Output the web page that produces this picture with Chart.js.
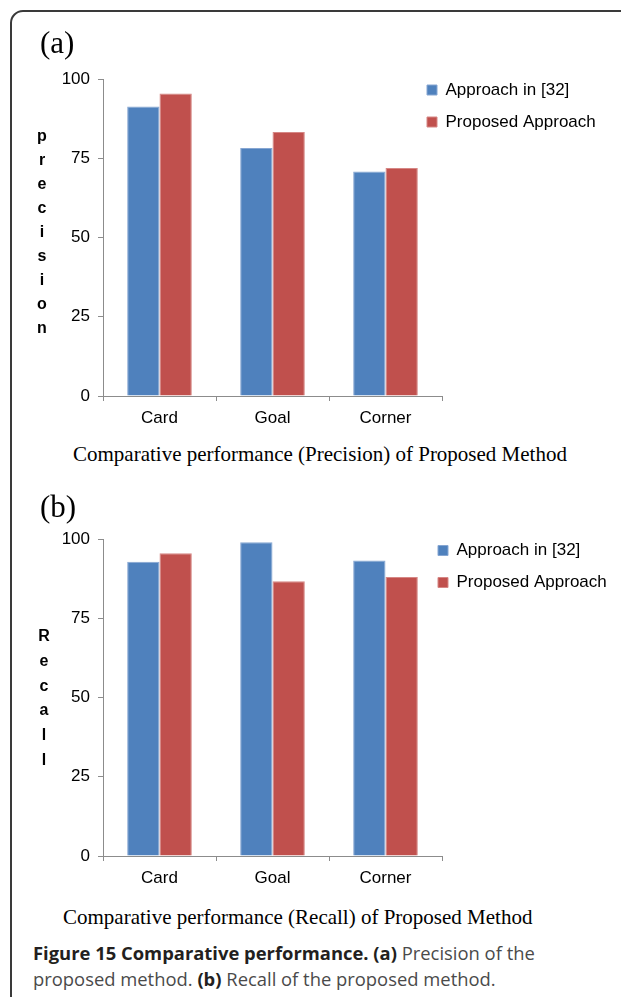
<!DOCTYPE html>
<html>
<head>
<meta charset="utf-8">
<title>Comparative performance</title>
<script src="https://cdn.jsdelivr.net/npm/chart.js@4.4.1/dist/chart.umd.min.js"></script>
<style>
  html, body { margin: 0; padding: 0; background: #fff; overflow: hidden; }
  body { width: 621px; height: 997px; position: relative; }
  .frame { position: absolute; left: 10px; top: 10px; width: 700px; height: 1100px;
           border: 2px solid #3a3a3a; border-radius: 13px; box-sizing: border-box; }
  .panel { position: absolute; left: 0; width: 621px; height: 440px; }
  .tag { position: absolute; left: 40px; font: 31px "Liberation Serif", "Times New Roman", serif;
         line-height: 1; white-space: nowrap; }
  .subtitle { position: absolute; font: 21px "Liberation Serif", "Times New Roman", serif;
              line-height: 1; white-space: nowrap; }
  .caption { position: absolute; left: 33px; top: 940px; font: 18.4px "Open Sans", sans-serif;
             color: #4a4a4a; line-height: 26px; white-space: nowrap; }
  .caption b { color: #231f20; font-weight: 700; }
</style>
</head>
<body>
<div class="frame"></div>

<div class="panel" style="top:0"><canvas id="precisionChart"></canvas></div>
<div class="tag" style="top:27px">(a)</div>
<div class="subtitle" style="left:73px; top:444px">Comparative performance (Precision) of Proposed Method</div>

<div class="panel" style="top:460px"><canvas id="recallChart"></canvas></div>
<div class="tag" style="top:491px">(b)</div>
<div class="subtitle" style="left:63px; top:907px">Comparative performance (Recall) of Proposed Method</div>

<div class="caption">
  <b>Figure 15 Comparative performance. (a)</b> Precision of the<br>
  proposed method. <b>(b)</b> Recall of the proposed method.
</div>

<script>
// event categories and the two methods being compared
const categories = ['Card', 'Goal', 'Corner'];
const seriesNames = ['Approach in [32]', 'Proposed Approach'];

// precision (%) per event
const precisionOld = [91.3, 78.2, 70.8];
const precisionNew = [95.4, 83.3, 71.9];

// recall (%) per event
const recallOld = [92.8, 99.0, 93.2];
const recallNew = [95.5, 86.7, 88.0];

// y axis ticks
const yTicks = [0, 25, 50, 75, 100];

// y axis titles, written one letter per line
const precisionLetters = ['p', 'r', 'e', 'c', 'i', 's', 'i', 'o', 'n'];
const recallLetters = ['R', 'e', 'c', 'a', 'l', 'l'];

const blue = '#4f81bd';
const red = '#c0504d';
const axisGrey = '#8c8c8c';

Chart.defaults.font.family = '"Liberation Sans", Arial, Helvetica, sans-serif';
Chart.defaults.font.size = 17;
Chart.defaults.color = '#000';

// move the legend over the top right corner of the plot, no column reserved for it
const legendSpot = {
  id: 'legendSpot',
  afterLayout(chart, args, opts) {
    const lg = chart.legend;
    if (!lg) return;
    const w = lg.width, h = lg.height;
    lg.left = opts.x;
    lg.right = opts.x + w;
    lg.top = opts.y;
    lg.bottom = opts.y + h;
  }
};

// vertical axis title stacked letter by letter
const stackedTitle = {
  id: 'stackedTitle',
  afterDraw(chart, args, opts) {
    const ctx = chart.ctx;
    const y = chart.scales.y;
    const mid = (y.top + y.bottom) / 2 + opts.shift;
    const first = mid - (opts.letters.length - 1) * opts.step / 2;
    ctx.save();
    ctx.font = 'bold 16px "Liberation Sans", Arial, sans-serif';
    ctx.fillStyle = '#000';
    ctx.textAlign = 'center';
    ctx.textBaseline = 'middle';
    opts.letters.forEach((ch, i) => ctx.fillText(ch, opts.x, first + i * opts.step));
    ctx.restore();
  }
};

function makeChart(id, oldVals, newVals, title) {
  return new Chart(document.getElementById(id), {
    type: 'bar',
    data: {
      labels: categories,
      datasets: [
        { label: seriesNames[0], data: oldVals, backgroundColor: blue,
          borderColor: '#86a6d2', borderWidth: 1 },
        { label: seriesNames[1], data: newVals, backgroundColor: red,
          borderColor: '#d68785', borderWidth: 1 }
      ]
    },
    options: {
      responsive: true,
      maintainAspectRatio: false,
      animation: false,
      layout: { padding: { top: 79, right: 179, bottom: 0, left: 0 } },
      datasets: { bar: { barPercentage: 1, categoryPercentage: 0.572 } },
      scales: {
        x: {
          grid: { offset: true, drawOnChartArea: false, tickLength: 5, color: axisGrey },
          border: { color: axisGrey },
          ticks: { padding: 7 },
          afterFit(s) { s.height = 44; }
        },
        y: {
          min: 0,
          max: 100,
          afterBuildTicks(s) { s.ticks = yTicks.map(v => ({ value: v })); },
          grid: { drawOnChartArea: false, tickLength: 5, color: axisGrey },
          border: { color: axisGrey },
          ticks: { padding: 8 },
          afterFit(s) { s.width = 103; }
        }
      },
      plugins: {
        legend: {
          position: 'chartArea',
          align: 'start',
          labels: { boxWidth: 10, boxHeight: 10, padding: 15 }
        },
        tooltip: { enabled: false },
        legendSpot: title.legend,
        stackedTitle: title.axis
      }
    },
    plugins: [legendSpot, stackedTitle]
  });
}

makeChart('precisionChart', precisionOld, precisionNew, {
  legend: { x: 412, y: 66.5 },
  axis: { letters: precisionLetters, x: 42, step: 24, shift: -5 }
});

makeChart('recallChart', recallOld, recallNew, {
  legend: { x: 423, y: 67 },
  axis: { letters: recallLetters, x: 44, step: 24.8, shift: 1 }
});
</script>
</body>
</html>
